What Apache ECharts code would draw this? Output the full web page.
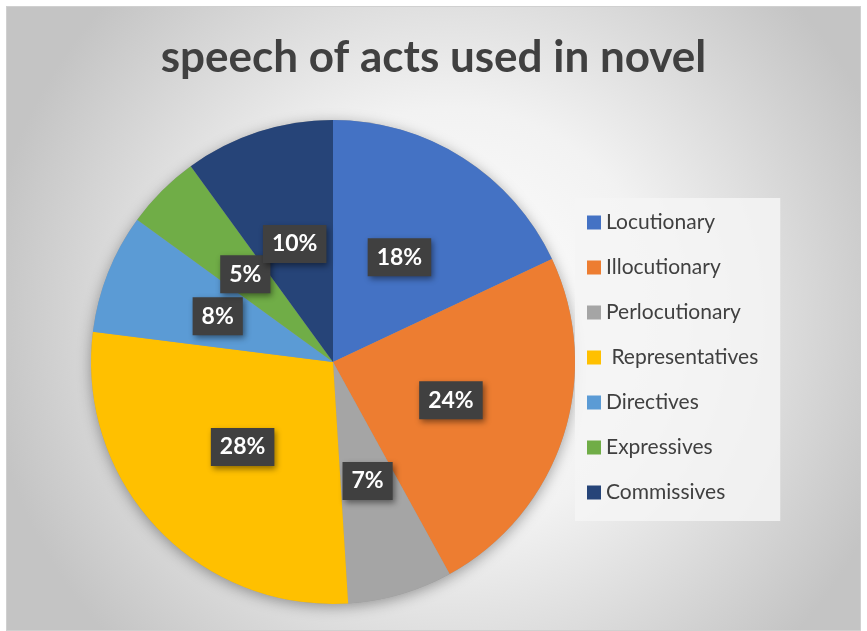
<!DOCTYPE html>
<html><head><meta charset="utf-8">
<script src="https://cdn.jsdelivr.net/npm/echarts@6/dist/echarts.min.js"></script>
<style>
html,body{margin:0;padding:0;background:#fff;width:867px;height:631px;overflow:hidden}
#c{position:absolute;left:6px;top:6px;width:855px;height:625px;border:1px solid #d0d0d0;box-sizing:border-box}
</style></head><body>
<div id="c"></div>
<script>
const titleText = 'speech of acts used in novel';
const categories = ['Locutionary','Illocutionary','Perlocutionary',' Representatives','Directives','Expressives','Commissives'];
const values = [18, 24, 7, 28, 8, 5, 10];
const colors = ['#4472C4','#ED7D31','#A5A5A5','#FFC000','#5B9BD5','#70AD47','#264478'];

const chart = echarts.init(document.getElementById('c'));
const data = categories.map((n,i)=>({name:n,value:values[i],itemStyle:{color:colors[i]}}));
chart.setOption({
  backgroundColor:{type:'radial',x:0.52,y:0.5,r:0.75,colorStops:[{offset:0,color:'#ffffff'},{offset:0.45,color:'#f2f2f2'},{offset:1,color:'#c4c4c4'}]},
  animation:false,
  title:{text:titleText,left:'center',top:24,textStyle:{fontFamily:'Lato',fontWeight:'bold',fontSize:44,color:'#404040'}},
  legend:{
    orient:'vertical',left:568,top:191,
    data:categories,
    icon:'rect',itemWidth:14,itemHeight:14,itemGap:24,
    backgroundColor:'rgba(245,245,245,0.85)',
    padding:[14,22,18,12],
    textStyle:{fontFamily:'Lato',fontSize:21,color:'#404040',lineHeight:19}
  },
  series:[
    {type:'pie',silent:true,center:[326,355],radius:242,startAngle:90,clockwise:true,
     data:[{value:1,itemStyle:{color:'#999',shadowBlur:14,shadowColor:'rgba(0,0,0,0.35)',shadowOffsetY:3}}],
     label:{show:false},labelLine:{show:false},z:1},
    {type:'pie',center:[326,355],radius:242,startAngle:90,clockwise:true,data:data,z:2,
     avoidLabelOverlap:false,
     labelLayout:{hideOverlap:false},
     itemStyle:{borderWidth:0},
     label:{show:true,position:'inside',formatter:p=>p.value+'%',
       fontFamily:'Lato',fontWeight:'bold',fontSize:23,color:'#ffffff',
       backgroundColor:'#404040',padding:[8,9,7,9],
       shadowColor:'rgba(0,0,0,0.45)',shadowBlur:6,shadowOffsetX:2,shadowOffsetY:3},
     labelLine:{show:false}}
  ]
});
</script>
</body></html>
